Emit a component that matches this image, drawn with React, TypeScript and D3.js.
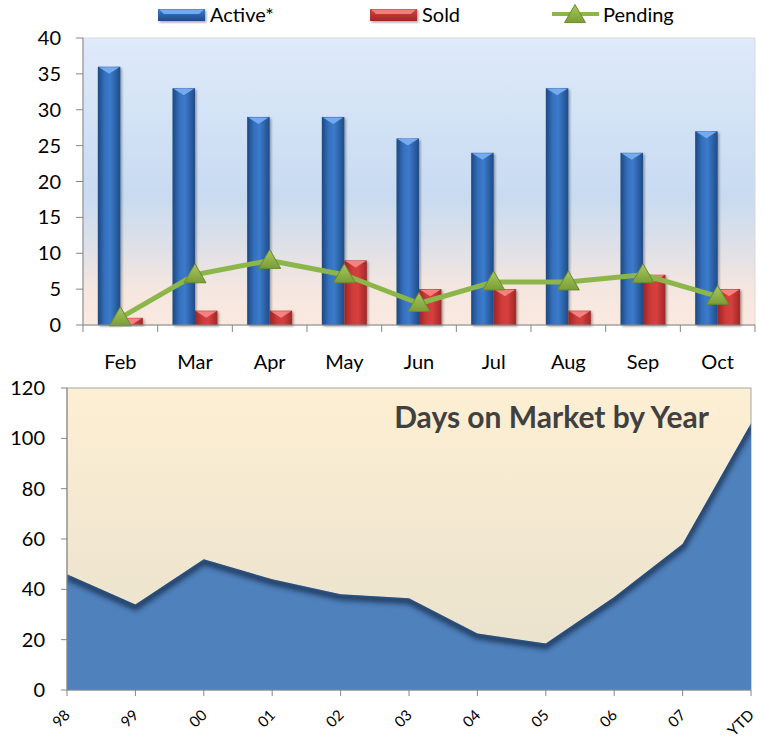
import React from 'react';
import * as d3 from 'd3';

const months = ['Feb', 'Mar', 'Apr', 'May', 'Jun', 'Jul', 'Aug', 'Sep', 'Oct'];
const active = [36, 33, 29, 29, 26, 24, 33, 24, 27];
const sold = [1, 2, 2, 9, 5, 5, 2, 7, 5];
const pending = [1, 7, 9, 7, 3, 6, 6, 7, 4];
const topTicks = [0, 5, 10, 15, 20, 25, 30, 35, 40];

const years = ['98', '99', '00', '01', '02', '03', '04', '05', '06', '07', 'YTD'];
const daysOnMarket = [46, 34, 52, 44, 38, 36.5, 22.5, 18.5, 37, 58, 106];
const bottomTicks = [0, 20, 40, 60, 80, 100, 120];

const FONT = 'Lato, "Open Sans", sans-serif';

export default function App() {
  const W = 765;
  const H = 740;

  // top chart
  const top = { left: 83, right: 755, top: 38, bottom: 325 };
  const x = d3.scaleBand<string>().domain(months).range([top.left, top.right]).padding(0);
  const y = d3.scaleLinear().domain([0, 40]).range([top.bottom, top.top]);
  const sub = d3.scaleBand<string>().domain(['Active', 'Sold']).range([0, x.bandwidth()]).paddingInner(0).paddingOuter(0.66);
  const pendLine = d3.line<number>()
    .x((_, i) => (x(months[i]) || 0) + x.bandwidth() / 2)
    .y(d => y(d));

  // bottom chart
  const bot = { left: 67, right: 751, top: 388, bottom: 690 };
  const xb = d3.scalePoint<string>().domain(years).range([bot.left, bot.right]);
  const yb = d3.scaleLinear().domain([0, 120]).range([bot.bottom, bot.top]);
  const area = d3.area<number>()
    .x((_, i) => xb(years[i]) || 0)
    .y0(yb(0))
    .y1(d => yb(d));
  const topEdge = d3.line<number>()
    .x((_, i) => xb(years[i]) || 0)
    .y(d => yb(d));

  const bar = (key: string, v: number, i: number, grad: string, bevel: string) => {
    const x0 = (x(months[i]) || 0) + (sub(key) || 0);
    const w = sub.bandwidth();
    const y0 = y(v);
    const h = y(0) - y0;
    const bh = Math.min(7, h);
    return (
      <g key={key + i} filter="url(#barShadow)">
        <rect x={x0} y={y0} width={w} height={h} fill={`url(#${grad})`} />
        <path d={`M${x0 + 1},${y0 + 0.5}L${x0 + w - 1},${y0 + 0.5}L${x0 + w / 2},${y0 + bh}Z`} fill={bevel} />
      </g>
    );
  };

  const tri = (cx: number, cy: number, key: string, s = 1) => (
    <path key={key}
      d={`M${cx},${cy - 11 * s}L${cx + 11 * s},${cy + 8 * s}L${cx - 11 * s},${cy + 8 * s}Z`}
      fill="url(#triGrad)" stroke="#6a8a2c" strokeWidth={1} />
  );

  const legendSwatch = (x0: number, w: number, grad: string, bevel: string) => (
    <g filter="url(#barShadow)">
      <rect x={x0} y={9} width={w} height={12} fill={`url(#${grad}V)`} />
      <path d={`M${x0 + 1},${9.5}L${x0 + w - 1},${9.5}L${x0 + w - 6},${14}L${x0 + 6},${14}Z`} fill={bevel} />
    </g>
  );

  return (
    <svg width={W} height={H} style={{ position: 'absolute', left: 0, top: 0, fontFamily: FONT }}>
      <defs>
        <linearGradient id="topBg" x1="0" x2="0" y1="0" y2="1">
          <stop offset="0" stopColor="#dfeafa" />
          <stop offset="0.55" stopColor="#c8dbf1" />
          <stop offset="0.72" stopColor="#dde0e8" />
          <stop offset="0.86" stopColor="#f3e6e0" />
          <stop offset="1" stopColor="#fbe9df" />
        </linearGradient>
        <linearGradient id="botBg" x1="0" x2="0" y1="0" y2="1">
          <stop offset="0" stopColor="#fdefd3" />
          <stop offset="1" stopColor="#e7e0cd" />
        </linearGradient>
        <linearGradient id="blueBar" x1="0" x2="1" y1="0" y2="0">
          <stop offset="0" stopColor="#1d477f" />
          <stop offset="0.3" stopColor="#3470bd" />
          <stop offset="0.55" stopColor="#3b7bcb" />
          <stop offset="1" stopColor="#1f4b86" />
        </linearGradient>
        <linearGradient id="redBar" x1="0" x2="1" y1="0" y2="0">
          <stop offset="0" stopColor="#9c2424" />
          <stop offset="0.35" stopColor="#cf3b3a" />
          <stop offset="0.6" stopColor="#d6403e" />
          <stop offset="1" stopColor="#a12727" />
        </linearGradient>
        <linearGradient id="blueBarV" x1="0" x2="0" y1="0" y2="1">
          <stop offset="0" stopColor="#3b7bcb" />
          <stop offset="1" stopColor="#1f4b86" />
        </linearGradient>
        <linearGradient id="redBarV" x1="0" x2="0" y1="0" y2="1">
          <stop offset="0" stopColor="#d6403e" />
          <stop offset="1" stopColor="#a12727" />
        </linearGradient>
        <linearGradient id="triGrad" x1="0" x2="0" y1="0" y2="1">
          <stop offset="0" stopColor="#a8c864" />
          <stop offset="1" stopColor="#7a9d35" />
        </linearGradient>
        <filter id="barShadow" x="-30%" y="-10%" width="160%" height="130%">
          <feDropShadow dx="1.5" dy="1.5" stdDeviation="1.2" floodColor="#000" floodOpacity="0.35" />
        </filter>
        <filter id="edgeBlur" x="-10%" y="-10%" width="120%" height="120%">
          <feGaussianBlur stdDeviation="2.5" />
        </filter>
        <clipPath id="areaClip">
          <path d={area(daysOnMarket) || ''} />
        </clipPath>
      </defs>

      {/* Legend */}
      <g fontSize={20} fill="#000">
        {legendSwatch(158, 47, 'blueBar', '#74aaf0')}
        <text x={210} y={22}>Active*</text>
        {legendSwatch(370, 47, 'redBar', '#f27c79')}
        <text x={422} y={22}>Sold</text>
        <line x1={552} x2={599} y1={14} y2={14} stroke="#8db64a" strokeWidth={4} />
        {tri(575, 15, 'legtri', 0.95)}
        <text x={603} y={22}>Pending</text>
      </g>

      {/* Top chart */}
      <rect x={top.left} y={top.top} width={top.right - top.left} height={top.bottom - top.top}
        fill="url(#topBg)" stroke="#d9d9d9" strokeWidth={1} />
      {active.map((v, i) => bar('Active', v, i, 'blueBar', '#74aaf0'))}
      {sold.map((v, i) => bar('Sold', v, i, 'redBar', '#f58280'))}
      <path d={pendLine(pending) || ''} fill="none" stroke="#8db64a" strokeWidth={5} strokeLinejoin="round" />
      {pending.map((v, i) => tri((x(months[i]) || 0) + x.bandwidth() / 2, y(v), 'p' + i))}

      <line x1={top.left} x2={top.left} y1={top.top} y2={top.bottom} stroke="#868686" />
      <line x1={top.left} x2={top.right} y1={top.bottom} y2={top.bottom} stroke="#868686" />
      {topTicks.map(t => (
        <g key={'yt' + t}>
          <line x1={top.left - 7} x2={top.left} y1={y(t)} y2={y(t)} stroke="#868686" />
          <text x={61} y={y(t)} dy="0.35em" textAnchor="end" fontSize={20}>{t}</text>
        </g>
      ))}
      {months.map((m, i) => (
        <g key={'xt' + m}>
          <line x1={(x(m) || 0)} x2={(x(m) || 0)} y1={top.bottom} y2={top.bottom + 7} stroke="#868686" />
          {i === months.length - 1 && (
            <line x1={top.right} x2={top.right} y1={top.bottom} y2={top.bottom + 7} stroke="#868686" />
          )}
          <text x={(x(m) || 0) + x.bandwidth() / 2} y={369} textAnchor="middle" fontSize={20}>{m}</text>
        </g>
      ))}

      {/* Bottom chart */}
      <rect x={bot.left} y={bot.top} width={bot.right - bot.left} height={bot.bottom - bot.top}
        fill="url(#botBg)" stroke="#a6a6a6" strokeWidth={1} />
      <path d={area(daysOnMarket) || ''} fill="#4f81bd" />
      <g clipPath="url(#areaClip)">
        <path d={topEdge(daysOnMarket) || ''} transform="translate(0,2.5)" fill="none" stroke="#1a3557" strokeWidth={7} opacity={0.85} filter="url(#edgeBlur)" />
      </g>
      <text x={709} y={428} textAnchor="end" fontSize={30} fontWeight="bold" fill="#404040">Days on Market by Year</text>

      <line x1={bot.left} x2={bot.left} y1={bot.top} y2={bot.bottom} stroke="#868686" />
      <line x1={bot.left} x2={bot.right} y1={bot.bottom} y2={bot.bottom} stroke="#868686" />
      {bottomTicks.map(t => (
        <g key={'ybt' + t}>
          <line x1={bot.left - 6} x2={bot.left} y1={yb(t)} y2={yb(t)} stroke="#868686" />
          <text x={45} y={yb(t)} dy="0.35em" textAnchor="end" fontSize={20}>{t}</text>
        </g>
      ))}
      {years.map(yr => {
        const px = xb(yr) || 0;
        return (
          <g key={'xbt' + yr}>
            <line x1={px} x2={px} y1={bot.bottom} y2={bot.bottom + 6} stroke="#868686" />
            <text transform={`translate(${px + 4},${bot.bottom + 26}) rotate(-45)`} textAnchor="end" fontSize={15}>{yr}</text>
          </g>
        );
      })}
    </svg>
  );
}
